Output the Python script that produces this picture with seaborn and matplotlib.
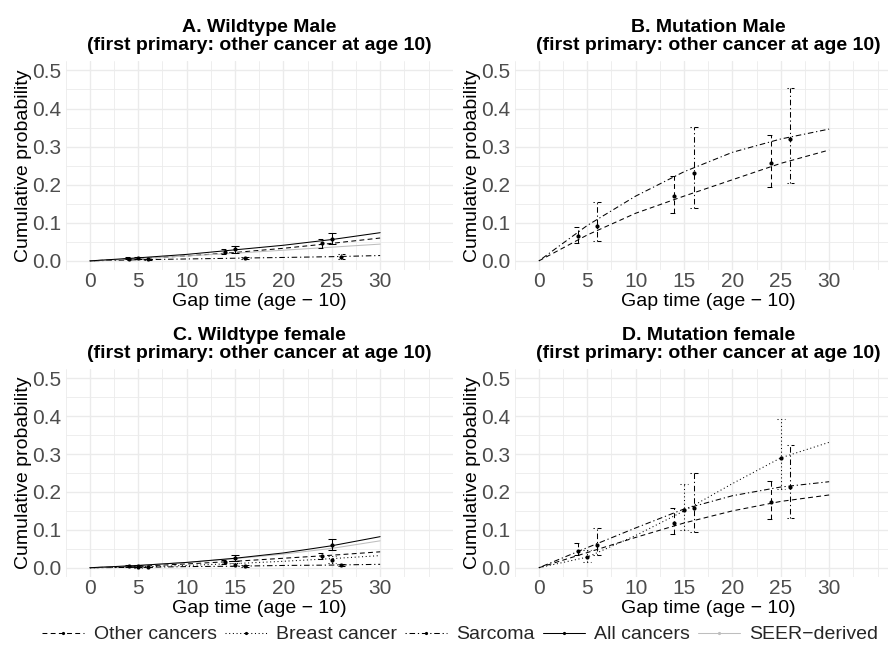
import numpy as np
import pandas as pd
import seaborn as sns
import matplotlib
matplotlib.use("Agg")
import matplotlib.pyplot as plt
from matplotlib.lines import Line2D

sns.set_theme(style="white")
plt.rcParams["font.family"] = ["Liberation Sans", "DejaVu Sans"]
plt.rcParams["lines.scale_dashes"] = False

# ---------------- data ----------------
curve_x = [0, 5, 10, 15, 20, 25, 30]
x_other = [4, 14, 24]
x_breast = [5, 15, 25]
x_all = [5, 15, 25]
x_sarc = [6, 16, 26]

# Panel A: wildtype male
A_other = [0, 0.006, 0.013, 0.022, 0.033, 0.046, 0.060]
A_sarc = [0, 0.003, 0.005, 0.007, 0.009, 0.011, 0.014]
A_all = [0, 0.008, 0.017, 0.029, 0.041, 0.056, 0.074]
A_seer = [0, 0.006, 0.013, 0.020, 0.028, 0.036, 0.044]
A_other_y, A_other_lo, A_other_hi = [0.006, 0.024, 0.046], [0.004, 0.018, 0.035], [0.009, 0.030, 0.058]
A_all_y, A_all_lo, A_all_hi = [0.008, 0.030, 0.057], [0.006, 0.021, 0.044], [0.010, 0.038, 0.073]
A_sarc_y, A_sarc_lo, A_sarc_hi = [0.004, 0.008, 0.011], [0.002, 0.006, 0.006], [0.006, 0.010, 0.017]

# Panel B: mutation male
B_other = [0, 0.068, 0.125, 0.170, 0.213, 0.256, 0.291]
B_sarc = [0, 0.093, 0.170, 0.234, 0.285, 0.320, 0.346]
B_other_y, B_other_lo, B_other_hi = [0.066, 0.171, 0.256], [0.048, 0.127, 0.193], [0.090, 0.224, 0.331]
B_sarc_y, B_sarc_lo, B_sarc_hi = [0.092, 0.230, 0.319], [0.052, 0.139, 0.205], [0.154, 0.352, 0.455]

# Panel C: wildtype female
C_other = [0, 0.004, 0.010, 0.017, 0.025, 0.033, 0.042]
C_breast = [0, 0.002, 0.006, 0.011, 0.017, 0.024, 0.032]
C_sarc = [0, 0.001, 0.003, 0.004, 0.006, 0.007, 0.009]
C_all = [0, 0.006, 0.014, 0.025, 0.039, 0.058, 0.082]
C_seer = [0, 0.006, 0.014, 0.024, 0.036, 0.051, 0.071]
C_other_y, C_other_lo, C_other_hi = [0.004, 0.016, 0.031], [0.002, 0.011, 0.022], [0.006, 0.021, 0.040]
C_breast_y, C_breast_lo, C_breast_hi = [0.002, 0.008, 0.021], [0.000, 0.004, 0.013], [0.004, 0.013, 0.030]
C_sarc_y, C_sarc_lo, C_sarc_hi = [0.002, 0.004, 0.007], [0.001, 0.002, 0.004], [0.003, 0.006, 0.011]
C_all_y, C_all_lo, C_all_hi = [0.005, 0.026, 0.059], [0.003, 0.018, 0.046], [0.008, 0.033, 0.075]

# Panel D: mutation female
D_other = [0, 0.040, 0.080, 0.118, 0.150, 0.175, 0.192]
D_breast = [0, 0.028, 0.085, 0.150, 0.222, 0.290, 0.331]
D_sarc = [0, 0.053, 0.105, 0.155, 0.190, 0.213, 0.227]
D_other_y, D_other_lo, D_other_hi = [0.045, 0.117, 0.174], [0.033, 0.088, 0.129], [0.064, 0.158, 0.229]
D_breast_y, D_breast_lo, D_breast_hi = [0.027, 0.152, 0.290], [0.016, 0.099, 0.209], [0.048, 0.222, 0.392]
D_sarc_y, D_sarc_lo, D_sarc_hi = [0.060, 0.157, 0.214], [0.033, 0.093, 0.132], [0.104, 0.251, 0.323]

titles = ["A. Wildtype Male", "B. Mutation Male", "C. Wildtype female", "D. Mutation female"]
subtitle = "(first primary: other cancer at age 10)"
x_ticks = [0, 5, 10, 15, 20, 25, 30]
y_ticks = [0.0, 0.1, 0.2, 0.3, 0.4, 0.5]
series_names = ["Other cancers", "Breast cancer", "Sarcoma", "All cancers", "SEER\u2212derived"]

# ---------------- styles ----------------
LW = 0.75
STY = {
    "Other cancers": dict(color="black", ls=(0, (3.5, 2.4))),
    "Breast cancer": dict(color="black", ls=(0, (0.75, 1.9))),
    "Sarcoma": dict(color="black", ls=(0, (0.9, 2.0, 4.0, 2.0))),
    "All cancers": dict(color="black", ls="-"),
    "SEER\u2212derived": dict(color="#BEBEBE", ls="-"),
}

panels = [
    dict(curves={"Other cancers": A_other, "Sarcoma": A_sarc, "SEER\u2212derived": A_seer, "All cancers": A_all},
         pts={"Other cancers": (x_other, A_other_y, A_other_lo, A_other_hi),
              "All cancers": (x_all, A_all_y, A_all_lo, A_all_hi),
              "Sarcoma": (x_sarc, A_sarc_y, A_sarc_lo, A_sarc_hi)}),
    dict(curves={"Other cancers": B_other, "Sarcoma": B_sarc},
         pts={"Other cancers": (x_other, B_other_y, B_other_lo, B_other_hi),
              "Sarcoma": (x_sarc, B_sarc_y, B_sarc_lo, B_sarc_hi)}),
    dict(curves={"Other cancers": C_other, "Breast cancer": C_breast, "Sarcoma": C_sarc,
                 "SEER\u2212derived": C_seer, "All cancers": C_all},
         pts={"Other cancers": (x_other, C_other_y, C_other_lo, C_other_hi),
              "Breast cancer": (x_breast, C_breast_y, C_breast_lo, C_breast_hi),
              "Sarcoma": (x_sarc, C_sarc_y, C_sarc_lo, C_sarc_hi),
              "All cancers": (x_all, C_all_y, C_all_lo, C_all_hi)}),
    dict(curves={"Other cancers": D_other, "Breast cancer": D_breast, "Sarcoma": D_sarc},
         pts={"Other cancers": (x_other, D_other_y, D_other_lo, D_other_hi),
              "Breast cancer": (x_breast, D_breast_y, D_breast_lo, D_breast_hi),
              "Sarcoma": (x_sarc, D_sarc_y, D_sarc_lo, D_sarc_hi)}),
]

# ---------------- layout (pixels) ----------------
W, H = 888, 647
fig = plt.figure(figsize=(W / 100, H / 100), dpi=100)
fig.patch.set_facecolor("white")

ax_w = 387.0
rects_px = [(65.7, 60.9, ax_w, 209.5), (514.7, 60.9, ax_w, 209.5),
            (65.7, 368.8, ax_w, 208.4), (514.7, 368.8, ax_w, 208.4)]

CAP = 0.4
GRID = "#EBEBEB"

for i, (rp, panel) in enumerate(zip(rects_px, panels)):
    l, t, w, h = rp
    ax = fig.add_axes([l / W, 1 - (t + h) / H, w / W, h / H])
    ax.set_facecolor("white")
    for name, ys in panel["curves"].items():
        st = STY[name]
        df = pd.DataFrame({"x": curve_x, "y": ys})
        sns.lineplot(data=df, x="x", y="y", ax=ax, color=st["color"], linewidth=LW,
                     linestyle=st["ls"], estimator=None, sort=False, zorder=3)
    for name, (xs, ys, lo, hi) in panel["pts"].items():
        st = STY[name]
        xs_a = np.asarray(xs, float)
        ax.vlines(xs_a, lo, hi, colors=st["color"], linestyles=[st["ls"]], lw=LW, zorder=4)
        ax.hlines(lo, xs_a - CAP, xs_a + CAP, colors=st["color"], linestyles=[st["ls"]], lw=LW, zorder=4)
        ax.hlines(hi, xs_a - CAP, xs_a + CAP, colors=st["color"], linestyles=[st["ls"]], lw=LW, zorder=4)
        sns.scatterplot(x=xs, y=ys, ax=ax, color=st["color"], s=9, linewidth=0, zorder=5)

    ax.set_xlim(-1.75, 36.75)
    ax.set_ylim(-0.025, 0.525)
    ax.set_xticks(x_ticks)
    ax.set_xticks([v for v in np.arange(-2.5, 37.6, 2.5) if v not in x_ticks], minor=True)
    ax.set_yticks(y_ticks)
    ax.set_yticks(np.arange(0.05, 0.51, 0.1), minor=True)
    ax.set_yticklabels([f"{v:.1f}" for v in y_ticks])
    ax.grid(which="major", color=GRID, lw=1.0, zorder=0)
    ax.grid(which="minor", color=GRID, lw=0.6, zorder=0)
    ax.set_axisbelow(True)
    for s in ax.spines.values():
        s.set_visible(False)
    ax.tick_params(which="both", length=0, labelsize=15, labelcolor="#4D4D4D")
    ax.tick_params(axis="y", pad=3.4)
    ax.tick_params(axis="x", pad=1.5)

    ax.set_xlabel("Gap time (age \u2212 10)", fontsize=14, color="black")
    ax.xaxis.set_label_coords(0.5, -0.108)
    ax.set_ylabel("Cumulative probability", fontsize=14, color="black")
    ax.yaxis.set_label_coords(-0.088, 0.5)
    ax.set_title(titles[i] + "\n" + subtitle, fontsize=14, fontweight="bold",
                 linespacing=1.12, pad=7.5, color="black")

# ---------------- legend ----------------
handles = [Line2D([], [], color=STY[n]["color"], ls=STY[n]["ls"], lw=LW,
                  marker="o", markersize=2.3, markeredgewidth=0) for n in series_names]
fig.legend(handles, series_names, ncol=5, loc="center",
           bbox_to_anchor=(460.5 / W, 1 - 634.5 / H), frameon=False, fontsize=14,
           handlelength=2.15, handletextpad=0.5, columnspacing=0.4,
           borderpad=0, borderaxespad=0)

fig.savefig("out.png", dpi=100, facecolor="white")
